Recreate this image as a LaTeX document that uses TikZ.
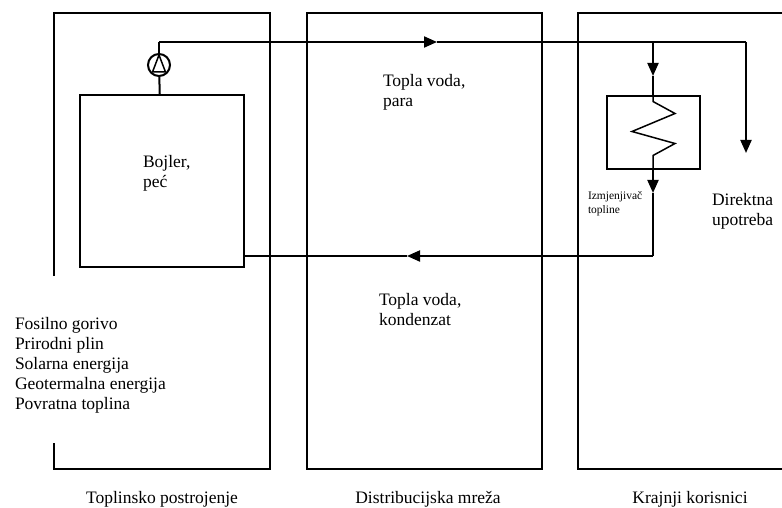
\documentclass[tikz,border=0pt]{standalone}
\usepackage{fontspec}
\setmainfont{Liberation Serif}
\usetikzlibrary{positioning,arrows.meta}

\begin{document}
\begin{tikzpicture}[x=1pt,y=-1pt,line width=2pt,
		flowtip/.style={-{Triangle[length=13pt,width=11pt]}},
		unitbox/.style={draw,rectangle,inner sep=0pt},
		pumpnode/.style={draw,circle,inner sep=0pt,minimum size=22pt},
		label/.style={anchor=base west,inner sep=0pt,align=left,font=\fontsize{17.5}{20}\selectfont},
		smalllabel/.style={anchor=base west,inner sep=0pt,align=left,font=\fontsize{11.5}{14}\selectfont},
		partlabel/.style={anchor=base,inner sep=0pt,font=\fontsize{17.5}{20}\selectfont}]
		\useasboundingbox (0,0) rectangle (782,508);

		\draw (54,276) -- (54,13) -- (270,13) -- (270,469) -- (54,469) -- (54,443);
		\draw (307,13) rectangle (542,469);
		\draw (782,13) -- (578,13) -- (578,469) -- (782,469);

		\node[unitbox,minimum width=164pt,minimum height=172pt]		(boiler)	at (162,181)	{};
		\node[pumpnode]												(pump)		at (159,65)		{};
		\node[unitbox,minimum width=93pt,minimum height=73pt]		(hx)		at (653,133)	{};
		\draw[line width=1.5pt] (159,55) -- (152.5,72) -- (165.5,72) -- cycle;
		\draw[line width=1.5pt] (hx.north) -- ++(0,6) -- ++(22,12) -- ++(-43,18) -- ++(43,12) -- ++(-22,12) -- (hx.south);

		\coordinate (ctop)		at (159,42);
		\coordinate (split)		at (653,42);
		\coordinate (cdir)		at (746,42);
		\coordinate (cret)		at (653,256);
		\coordinate (atop)		at (437,42);
		\coordinate (adir)		at (746,153);
		\coordinate (ain)		at (653,76);
		\coordinate (aout)		at (653,193);
		\coordinate (aret)		at (407,256);

		\draw (boiler) -- (pump);
		\draw (pump) -- (ctop);
		\draw[flowtip] (ctop) -- (atop);
		\draw (atop) -- (cdir);
		\draw[flowtip] (cdir) -- (adir);
		\draw[flowtip] (split) -- (ain);
		\draw (ain) -- (hx);
		\draw[flowtip] (hx) -- (aout);
		\draw (aout) -- (cret);
		\draw[flowtip] (cret) -- (aret);
		\draw (aret) -- (boiler.east |- aret);

		\node[label]		(boilertext)	at (142,187)	{Bojler,\\peć};
		\node[label]		(supply)		at (382,107)	{Topla voda,\\para};
		\node[label]		(return)		at (378,325)	{Topla voda,\\kondenzat};
		\node[smalllabel]	(hxtext)		at (587,213)	{Izmjenjivač\\topline};
		\node[label]		(direct)		at (711,225)	{Direktna\\upotreba};
		\node[label]		(fuels)			at (14,409)		{Fosilno gorivo\\Prirodni plin\\Solarna energija\\Geotermalna energija\\Povratna toplina};

		\node[partlabel]	(plant)			at (162,503)	{Toplinsko postrojenje};
		\node[partlabel]	(network)		at (428,503)	{Distribucijska mreža};
		\node[partlabel]	(users)			at (690,503)	{Krajnji korisnici};
\end{tikzpicture}
\end{document}
